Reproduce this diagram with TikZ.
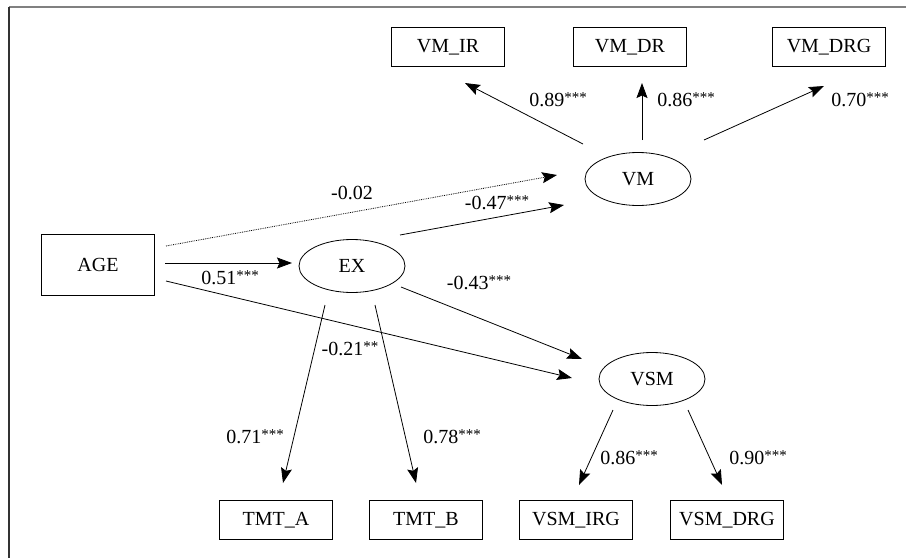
\documentclass[tikz,border=0pt]{standalone}
\usepackage{fontspec}
\setmainfont{Liberation Serif}
\newfontfamily\tnr{Liberation Serif}
\usetikzlibrary{arrows.meta,calc,shapes.geometric}
\newcommand{\sgf}[1]{\raisebox{0.22em}{\fontsize{15}{15}\selectfont #1}}
\begin{document}
\begin{tikzpicture}[x=1pt,y=-1pt,
  font=\tnr\fontsize{20}{22}\selectfont,
  obs/.style={draw,line width=0.8pt,minimum width=113pt,minimum height=39pt,inner sep=0pt},
  lat/.style={draw,ellipse,line width=0.8pt,minimum width=106pt,minimum height=53pt,inner sep=0pt},
  conn/.style={line width=0.8pt,-{Stealth[length=15pt,width=11pt,inset=2.5pt]}},
  lbl/.style={inner sep=0pt,anchor=center}]
\useasboundingbox (0,0) rectangle (906,558);
\draw[line width=1.2pt,color=black!50] (9,7) -- (906,7);
\draw[line width=1.2pt,color=black!80] (9,7) -- (9,558);
% nodes
\node[obs] (VMIR) at (448,47) {VM\_IR};
\node[obs] (VMDR) at (630,47) {VM\_DR};
\node[obs] (VMDRG) at (829,47) {VM\_DRG};
\node[lat] (VM) at (638,179) {VM};
\node[obs,minimum height=61pt] (AGE) at (98,265) {AGE};
\node[lat] (EX) at (352,266) {EX};
\node[lat] (VSM) at (652,379) {VSM};
\node[obs] (TMTA) at (276,520) {TMT\_A};
\node[obs] (TMTB) at (426,520) {TMT\_B};
\node[obs] (VSMIRG) at (576,520) {VSM\_IRG};
\node[obs] (VSMDRG) at (727,520) {VSM\_DRG};
% connectors
\draw[conn] ($(VM)+(-55,-35)$) -- ($(VMIR)+(17,36)$);
\draw[conn] ($(VM)+(4,-39)$) -- ($(VMDR)+(12,36)$);
\draw[conn] ($(VM)+(66,-39)$) -- ($(VMDRG)+(-5,39)$);
\draw[conn,densely dotted] ($(AGE)+(68,-19)$) -- ($(VM)+(-81,-4)$);
\draw[conn] ($(EX)+(48,-31)$) -- ($(VM)+(-74,26)$);
\draw[conn] ($(AGE)+(67,-2)$) -- ($(EX)+(-60,-3)$);
\draw[conn] ($(EX)+(49,21)$) -- ($(VSM)+(-70,-20)$);
\draw[conn] ($(AGE)+(68,16)$) -- ($(VSM)+(-80,-1)$);
\draw[conn] ($(EX)+(-27,39)$) -- ($(TMTA)+(7,-37)$);
\draw[conn] ($(EX)+(23,39)$) -- ($(TMTB)+(-10,-37)$);
\draw[conn] ($(VSM)+(-39,31)$) -- ($(VSMIRG)+(3,-35)$);
\draw[conn] ($(VSM)+(36,31)$) -- ($(VSMDRG)+(-5,-35)$);
% labels
\node[lbl] (l1) at (558,100) {0.89\sgf{***}};
\node[lbl] (l2) at (686,100) {0.86\sgf{***}};
\node[lbl] (l3) at (860,100) {0.70\sgf{***}};
\node[lbl] (l4) at (352,193) {-0.02};
\node[lbl] (l5) at (497,203) {-0.47\sgf{***}};
\node[lbl] (l6) at (230,278) {0.51\sgf{***}};
\node[lbl] (l7) at (479,283) {-0.43\sgf{***}};
\node[lbl] (l8) at (350,349) {-0.21\sgf{**}};
\node[lbl] (l9) at (255,437) {0.71\sgf{***}};
\node[lbl] (l10) at (452,437) {0.78\sgf{***}};
\node[lbl] (l11) at (629,458) {0.86\sgf{***}};
\node[lbl] (l12) at (758,458) {0.90\sgf{***}};
\end{tikzpicture}
\end{document}
